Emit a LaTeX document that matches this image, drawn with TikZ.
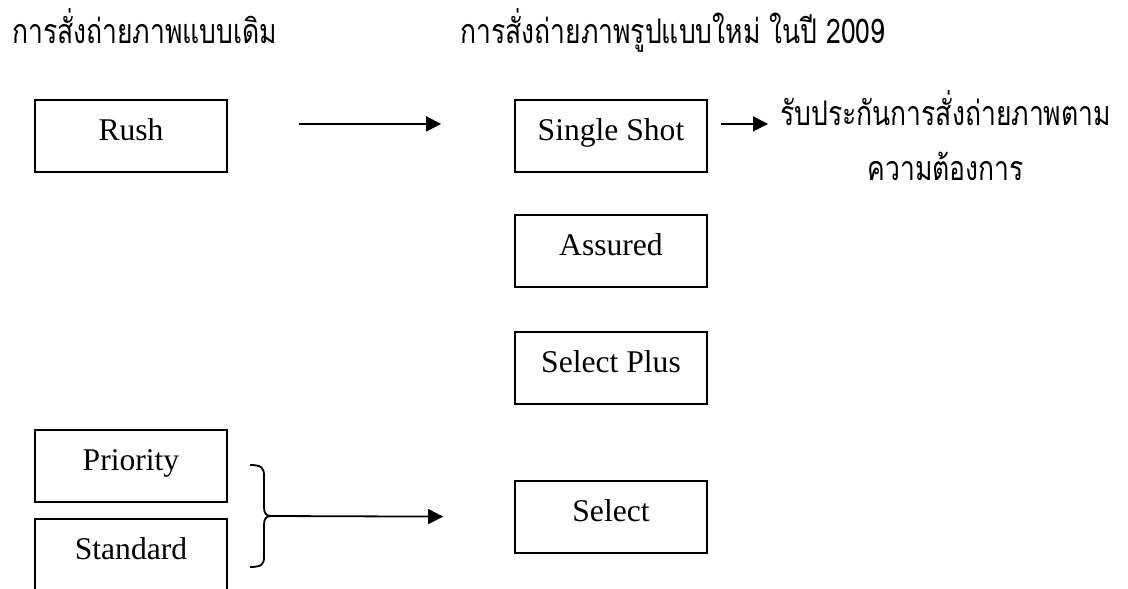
\documentclass[tikz,border=0pt]{standalone}
\usepackage{fontspec}
\setmainfont{Liberation Serif}
\newfontfamily\thaifont[Script=Thai,FakeStretch=0.78]{Loma}
\usetikzlibrary{arrows.meta}
\begin{document}
\begin{tikzpicture}[x=1pt,y=-1pt,
  box/.style={draw, line width=1.8pt, minimum width=192pt, inner sep=0pt,
    text height=41pt, text depth=31pt, anchor=north,
    font=\fontsize{31.6}{36}\selectfont},
  thai/.style={font=\thaifont\fontsize{34}{55}\selectfont, inner sep=0pt},
  arr/.style={line width=1.8pt, -{Triangle[length=15pt,width=15pt]}},
  brace/.style={line width=1.8pt}]
\useasboundingbox (0,0) rectangle (1128,589);
\clip (0,0) rectangle (1128,589);
% headers
\node[thai, anchor=base west] (hold) at (12,43) {การสั่งถ่ายภาพแบบเดิม};
\node[thai, anchor=base west] (hnew) at (460,43) {การสั่งถ่ายภาพรูปแบบใหม่ ในปี 2009};
% boxes
\node[box] (rush) at (131,99) {Rush};
\node[box] (single) at (611,99) {Single Shot};
\node[box] (assured) at (611,214) {Assured};
\node[box] (plus) at (611,331) {Select Plus};
\node[box] (select) at (611,480) {Select};
\node[box] (priority) at (131,429) {Priority};
\node[box] (standard) at (131,518) {Standard};
% note
\node[thai, anchor=base west] (note) at (780,125)
  {\vtop{\baselineskip=55pt\halign{\hfil#\hfil\cr
   รับประกันการสั่งถ่ายภาพตาม\cr ความต้องการ\cr}}};
% arrows
\draw[arr, shorten <=71pt, shorten >=73pt] ([yshift=12pt]rush.east) -- ([yshift=12pt]single.west);
\draw[arr, shorten <=13pt, shorten >=12pt] ([yshift=12pt]single.east) -- ([yshift=12pt]single.east -| note.west);
% brace
\coordinate (cusp) at (271,516);
\draw[brace] (250,465) .. controls (262,465) and (264,468) .. (264,476)
  -- (264,507) .. controls (264,513) and (266,516) .. (cusp)
  .. controls (266,516) and (264,519) .. (264,525)
  -- (264,557) .. controls (264,564) and (262,567) .. (250,567);
\draw[arr, shorten >=71pt] (cusp) -- (select.west);
\end{tikzpicture}
\end{document}
